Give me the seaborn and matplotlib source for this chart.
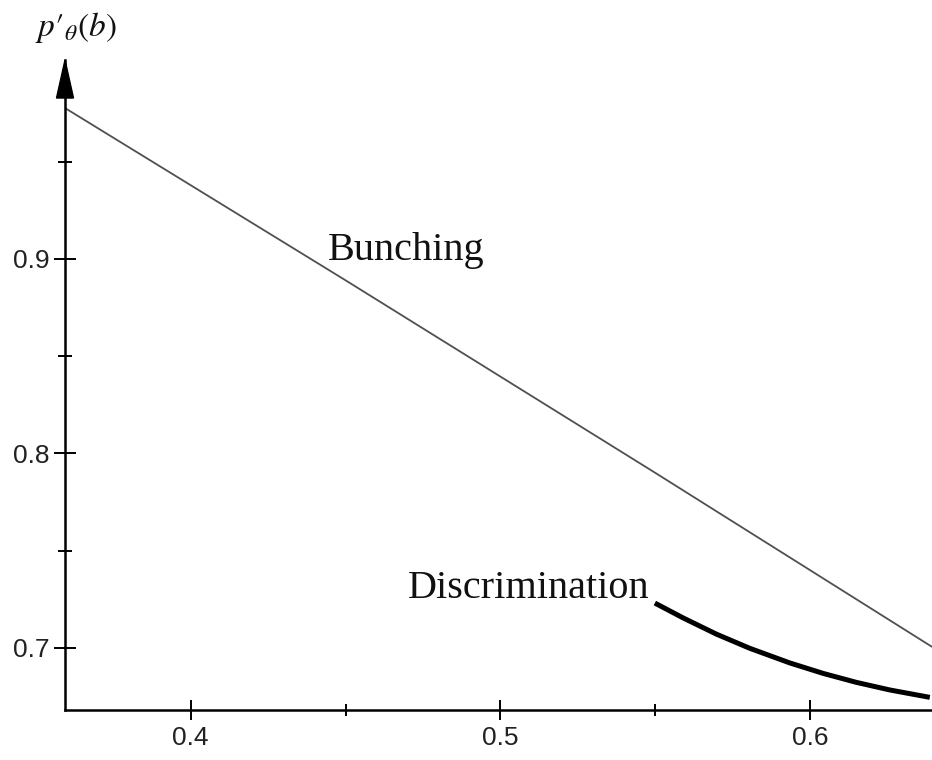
import matplotlib
matplotlib.use("Agg")
import matplotlib.pyplot as plt
import seaborn as sns
import pandas as pd
from matplotlib.patches import Polygon

# Data
bunching_b = [0.3594, 0.45, 0.55, 0.6394]
bunching_p = [0.9776, 0.8890, 0.7900, 0.7005]

discrim_b = [0.5499, 0.5591, 0.5698, 0.5806, 0.5935, 0.6043, 0.6150, 0.6258, 0.6387]
discrim_p = [0.7230, 0.7153, 0.7070, 0.6997, 0.6922, 0.6868, 0.6822, 0.6783, 0.6745]

x_major = [0.4, 0.5, 0.6]
x_minor = [0.45, 0.55]
y_major = [0.7, 0.8, 0.9]
y_minor = [0.75, 0.85, 0.95]

sns.set_theme(style="white")
plt.rcParams['mathtext.fontset'] = 'stix'

fig = plt.figure(figsize=(9.32, 7.6), dpi=100)
ax = fig.add_axes([65 / 932, 50 / 760, 867 / 932, 650 / 760])

df_b = pd.DataFrame({'b': bunching_b, 'p': bunching_p})
df_d = pd.DataFrame({'b': discrim_b, 'p': discrim_p})
sns.lineplot(data=df_b, x='b', y='p', ax=ax, color='#505050', lw=1.3, sort=False)
sns.lineplot(data=df_d, x='b', y='p', ax=ax, color='black', lw=3.6, sort=False,
             solid_joinstyle='round', solid_capstyle='butt')

ax.set_xlim(0.3594, 0.6394)
ax.set_ylim(0.668, 1.0023)

for side in ['top', 'right']:
    ax.spines[side].set_visible(False)
for side in ['left', 'bottom']:
    ax.spines[side].set_color('black')
    ax.spines[side].set_linewidth(1.8)

ax.set_xticks(x_major)
ax.set_xticks(x_minor, minor=True)
ax.set_yticks(y_major)
ax.set_yticks(y_minor, minor=True)
ax.set_xticklabels(['0.4', '0.5', '0.6'])
ax.set_yticklabels(['0.7', '0.8', '0.9'])

ax.tick_params(axis='x', which='major', direction='inout', length=13.7, width=1.4,
               color='black', pad=5, labelsize=19, labelcolor='#222222')
ax.tick_params(axis='x', which='minor', direction='inout', length=8.6, width=1.4, color='black')
ax.tick_params(axis='y', which='major', direction='inout', length=16.5, width=1.4,
               color='black', pad=3, labelsize=19, labelcolor='#222222')
ax.tick_params(axis='y', which='minor', direction='inout', length=9.6, width=1.4, color='black')
ax.tick_params(bottom=True, left=True, which='both')
for lab in ax.get_xticklabels() + ax.get_yticklabels():
    lab.set_family('Liberation Sans')

ax.set_xlabel('')
ax.set_ylabel('')

# arrow head on top of the y axis
ax.add_patch(Polygon([(-0.0098, 0.9415), (0.0098, 0.9415), (0.0, 1.0)],
                     closed=True, transform=ax.transAxes, clip_on=False,
                     facecolor='black', edgecolor='black', lw=1))

ax.text(0.4443, 0.8995, 'Bunching', family='Liberation Serif', fontsize=29,
        va='baseline', ha='left', color='#111111')
ax.text(0.4702, 0.7257, 'Discrimination', family='Liberation Serif', fontsize=29,
        va='baseline', ha='left', color='#111111')

fig.text(35 / 932, 1 - 36 / 760, r"$p{\prime}_{\theta}(b)$", fontsize=24,
         va='baseline', ha='left', color='#111111')

fig.savefig('out.png', dpi=100)
